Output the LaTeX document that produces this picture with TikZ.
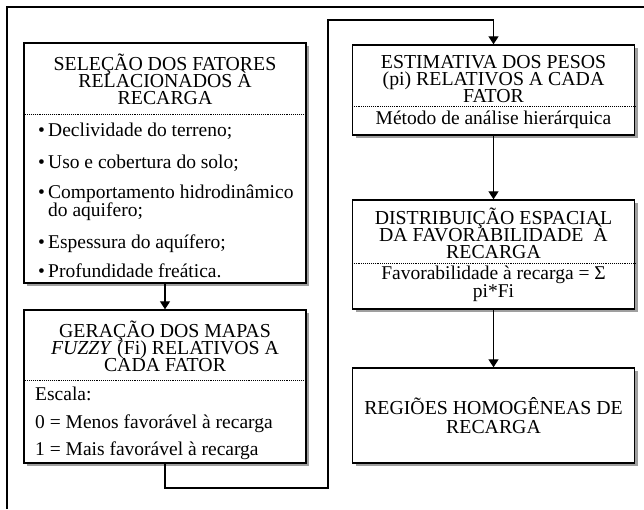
\documentclass[tikz,border=0pt]{standalone}
\usepackage{fontspec}
\setmainfont{Liberation Serif}
\usetikzlibrary{arrows.meta,shadows}
\newcommand{\hdrfont}{\fontsize{19.8}{17}\selectfont\lineskiplimit=-20pt}
\newcommand{\bodyfont}{\fontsize{19.5}{18}\selectfont\lineskiplimit=-20pt}
\newcommand{\blt}{\makebox[10pt][l]{\textbullet}}
\tikzset{
  stagebox/.style={draw, line width=1.4pt, fill=white, inner sep=0pt, minimum width=282pt,
    drop shadow={shadow xshift=3pt, shadow yshift=-3pt, fill=gray!75, opacity=1}},
  hdr/.style={align=center, font=\hdrfont, inner sep=0pt},
  itm/.style={anchor=base west, align=left, font=\bodyfont, inner sep=0pt},
  sep/.style={densely dotted, line width=0.9pt},
  conn/.style={line width=1.3pt, -{Triangle[width=10pt,length=8pt]}},
}

\begin{document}
\begin{tikzpicture}[x=1pt,y=-1pt]
  \useasboundingbox (0,0) rectangle (644,509);
  % moldura
  \draw[line width=2pt] (7,509) -- (7,6.5) -- (644,6.5);
  % caixas
  \node[stagebox, minimum height=240pt] (selecao) at (165,163) {};
  \node[stagebox, minimum height=153pt] (geracao) at (165,386.5) {};
  \node[stagebox, minimum height=90pt] (estimativa) at (493.5,90) {};
  \node[stagebox, minimum height=109pt] (distribuicao) at (493.5,254.5) {};
  \node[stagebox, minimum height=95pt, align=center, font=\fontsize{19.8}{19}\selectfont] (regioes) at (493.5,415.5)
    {REGIÕES HOMOGÊNEAS DE\\RECARGA};
  % selecao
  \node[hdr] (selecao-t) at (165,79) {SELEÇÃO DOS FATORES\\RELACIONADOS À\\RECARGA};
  \draw[sep] (selecao.west |- 0,114) -- (selecao.east |- 0,114);
  \node[itm] (i1) at (38,136) {\blt Declividade do terreno;};
  \node[itm] (i2) at (38,168) {\blt Uso e cobertura do solo;};
  \node[itm] (i3) at (38,216) {\blt Comportamento hidrodinâmico\\\hspace*{10pt}do aquifero;};
  \node[itm] (i4) at (38,248) {\blt Espessura do aquífero;};
  \node[itm] (i5) at (38,277) {\blt Profundidade freática.};
  % geracao
  \node[hdr] (geracao-t) at (165,346) {GERAÇÃO DOS MAPAS\\\textit{FUZZY} (Fi) RELATIVOS A\\CADA FATOR};
  \draw[sep] (geracao.west |- 0,380) -- (geracao.east |- 0,380);
  \node[itm] (e1) at (35,400) {Escala:};
  \node[itm] (e2) at (35,428) {0 = Menos favorável à recarga};
  \node[itm] (e3) at (35,455) {1 = Mais favorável à recarga};
  % estimativa
  \node[hdr] (estimativa-t) at (493.5,79) {ESTIMATIVA DOS PESOS\\(pi) RELATIVOS A CADA\\FATOR};
  \draw[sep] (estimativa.west |- 0,106) -- (estimativa.east |- 0,106);
  \node[hdr, font=\bodyfont] (estimativa-b) at (493.5,120) {Método de análise hierárquica};
  % distribuicao
  \node[hdr] (distribuicao-t) at (493.5,233) {DISTRIBUIÇÃO ESPACIAL\\DA FAVORABILIDADE \ À\\RECARGA};
  \draw[sep] (distribuicao.west |- 0,263) -- (distribuicao.east |- 0,263);
  \node[hdr, font=\fontsize{19.5}{15}\selectfont] (distribuicao-b) at (493.5,284) {Favorabilidade à recarga = Σ\\pi*Fi};
  % conectores
  \coordinate (baixo) at (328,488);
  \coordinate (topo) at (328,20);
  \draw[conn] (selecao) -- (geracao);
  \draw[conn] (geracao.south) |- (baixo) -- (topo) -| (estimativa.north);
  \draw[conn] (estimativa) -- (distribuicao);
  \draw[conn] (distribuicao) -- (regioes);
\end{tikzpicture}
\end{document}
